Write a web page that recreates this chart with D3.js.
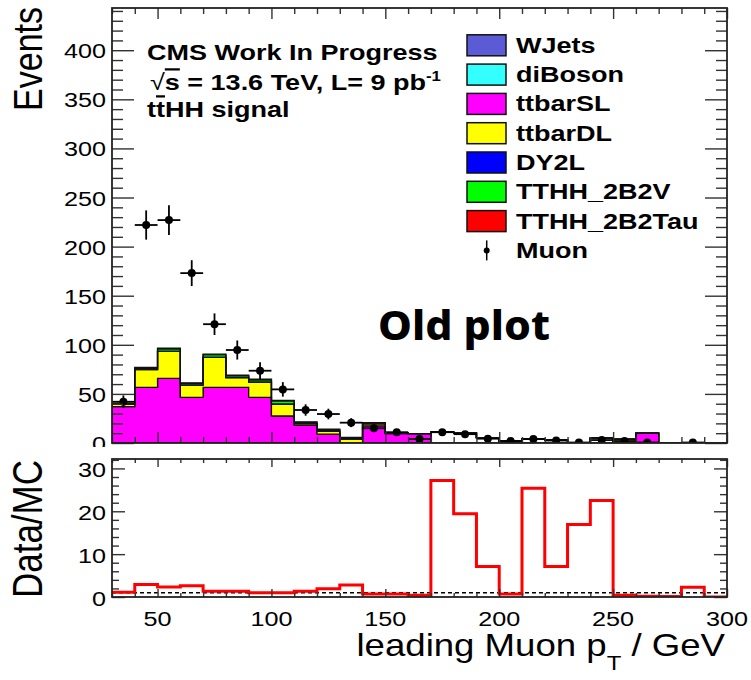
<!DOCTYPE html>
<html>
<head>
<meta charset="utf-8">
<script src="https://cdn.jsdelivr.net/npm/d3@7"></script>
<style>
  body { margin: 0; background: #fff; }
  svg text { font-family: "Liberation Sans", Arial, Helvetica, sans-serif; fill: #000; }
</style>
</head>
<body>
<svg id="chart" width="751" height="680"></svg>
<script>

// lower edge of each 10 GeV bin (leading muon pT)
var binLow = [30,40,50,60,70,80,90,100,110,120,130,140,150,160,170,180,190,200,210,220,230,240,250,260,270,280,290];
var binWidth = 10;

// stacked MC, bottom to top
var wjets      = [0,0,0,0,0,0,0,0,0,0,0,0,0,0,0,0,0,0,0,0,0,0,0,0,0,0,0];
var diboson    = [0,0,0,0,0,0,0,0,0,0,0,0,0,0,0,0,0,0,0,0,0,0,0,0,0,0,0];
var ttbarSL    = [37,56.7,65.8,46.5,56.7,56.7,46.5,27.5,18.3,9,0,17.5,9.5,9.5,0,0,0,0,0,0,0,0,0,10,0,0,0];
var ttbarDL    = [2.5,18,27.5,12.5,30.5,9.8,15.5,12.2,1.5,3,4,2,0.5,0,0,0,0,2,0,0,0,0,4,0,0,0,0];
var dy2l       = [0.2,0.2,0.2,0.2,0.2,0.2,0.2,0.2,0.2,0.2,0.2,0.2,0,0,0,0,0,0,0,0,0,0,0,0,0,0,0];
var tthh2b2v   = [0.5,1.5,2.5,1.5,2.5,2,2.2,3,1,1.5,1,0.5,0.5,0,0,0,0,0,0,0,0,0,0,0,0,0,0];
var tthh2b2tau = [0.5,0.5,0.5,0.5,0.5,0.5,0.5,0.5,0.5,0.5,0.5,0.5,0,0,0,0,0,0,0,0,0,0,0,0,0,0,0];
// outlined bins drawn without fill in the old plot
var unfilledMC = [0,0,0,0,0,0,0,0,0,0,0,0,0,0,11,10,5.4,0,4.4,3,0,5,0,0,0,0,0];

// data (Muon)
var muon = [42,222,227,173,121,94.7,73.6,54.6,33.6,29.5,20.7,15,11,4,11,9,4.4,2,4,2.5,0.5,3,2,0.5,null,0.5,null];

// Data/MC ratio
var ratio = [1.1,2.9,2.35,2.6,1.35,1.35,1.0,1.0,1.35,1.9,2.8,0.7,0.7,0.4,27.2,19.4,7.1,0.7,25.4,7.1,16.9,22.5,0.4,0.15,0.1,2.3,0];

var legendNames  = ["WJets","diBoson","ttbarSL","ttbarDL","DY2L","TTHH_2B2V","TTHH_2B2Tau"];
var legendColors = ["#5b5bd6","#33ffff","#ff00ff","#ffff00","#0000ff","#00ff00","#ff0000"];

var yTickLabels     = [0,50,100,150,200,250,300,350,400];
var ratioTickLabels = [0,10,20,30];
var xTickLabels     = [50,100,150,200,250,300];

// ---------------------------------------------------------------
var SX = 1.2;   // the old png was stretched sideways
var svg = d3.select("#chart");

var left = 112, right = 727;
var x  = d3.scaleLinear().domain([30, 300]).range([left, right]);
var y  = d3.scaleLinear().domain([0, 443]).range([443, 8]);
var yr = d3.scaleLinear().domain([0, 32.2]).range([597, 459]);

svg.append("rect").attr("width", 751).attr("height", 680).attr("fill", "#fff");

function stretchedText(g, px, py, str, size, weight, anchor) {
	return g.append("text")
		.attr("transform", "translate(" + px + "," + py + ") scale(" + SX + ",1)")
		.attr("font-size", size)
		.attr("font-weight", weight || "normal")
		.attr("text-anchor", anchor || "start")
		.text(str);
}

function frameTicks(g, yScale, yTop, yBottom, xMaj, xMin, yMaj, yMin, yMajorVals, yMinorVals) {
	var xMajorVals = xTickLabels;
	var xMinorVals = d3.range(30, 301, 10).filter(function(v) { return v % 50 !== 0; });
	var sets = [
		[d3.axisBottom, x, xMajorVals, xMaj, "translate(0," + yBottom + ")"],
		[d3.axisBottom, x, xMinorVals, xMin, "translate(0," + yBottom + ")"],
		[d3.axisTop, x, xMajorVals, xMaj, "translate(0," + yTop + ")"],
		[d3.axisTop, x, xMinorVals, xMin, "translate(0," + yTop + ")"],
		[d3.axisLeft, yScale, yMajorVals, yMaj, "translate(" + left + ",0)"],
		[d3.axisLeft, yScale, yMinorVals, yMin, "translate(" + left + ",0)"],
		[d3.axisRight, yScale, yMajorVals, yMaj, "translate(" + right + ",0)"],
		[d3.axisRight, yScale, yMinorVals, yMin, "translate(" + right + ",0)"]
	];
	sets.forEach(function(s) {
		g.append("g").attr("transform", s[4])
			.call(s[0](s[1]).tickValues(s[2]).tickSize(-s[3]).tickFormat(""))
			.call(function(a) {
				a.select(".domain").remove();
				a.selectAll("line").attr("stroke", "#333").attr("stroke-width", 1.4);
			});
	});
	g.append("rect")
		.attr("x", left).attr("y", yTop)
		.attr("width", right - left).attr("height", yBottom - yTop)
		.attr("fill", "none").attr("stroke", "#222").attr("stroke-width", 1.8);
}

// ---------------- upper pad ----------------
var upper = svg.append("g");
svg.append("clipPath").attr("id", "clipTop")
	.append("rect").attr("x", left).attr("y", 8).attr("width", right - left).attr("height", 435);

var layerKeys = ["unfilled","WJets","diBoson","ttbarSL","ttbarDL","DY2L","TTHH_2B2V","TTHH_2B2Tau"];
var layerData = {
	unfilled: unfilledMC, WJets: wjets, diBoson: diboson, ttbarSL: ttbarSL,
	ttbarDL: ttbarDL, DY2L: dy2l, TTHH_2B2V: tthh2b2v, TTHH_2B2Tau: tthh2b2tau
};
var layerFill = { unfilled: "#ffffff" };
legendNames.forEach(function(n, i) { layerFill[n] = legendColors[i]; });

var rows = binLow.map(function(b, i) {
	var r = { low: b };
	layerKeys.forEach(function(k) { r[k] = layerData[k][i]; });
	return r;
});
var stacked = d3.stack().keys(layerKeys)(rows);

var stepArea = d3.area().curve(d3.curveStepAfter)
	.x(function(d) { return x(d.low); })
	.y0(function(d) { return y(d.y0); })
	.y1(function(d) { return y(d.y1); });

var stackG = upper.append("g").attr("clip-path", "url(#clipTop)");
stacked.forEach(function(s) {
	var pts = s.map(function(d) { return { low: d.data.low, y0: d[0], y1: d[1] }; });
	var last = pts[pts.length - 1];
	pts.push({ low: last.low + binWidth, y0: last.y0, y1: last.y1 });
	stackG.append("path")
		.attr("d", stepArea(pts))
		.attr("fill", layerFill[s.key])
		.attr("stroke", "#111")
		.attr("stroke-width", 1.3);
});

// data points with poisson errors
var dataG = upper.append("g").attr("clip-path", "url(#clipTop)");
binLow.forEach(function(b, i) {
	var v = muon[i];
	if (v === null) return;
	var cx = x(b + binWidth / 2), cy = y(v), err = Math.sqrt(v);
	dataG.append("line").attr("x1", x(b)).attr("x2", x(b + binWidth)).attr("y1", cy).attr("y2", cy)
		.attr("stroke", "#000").attr("stroke-width", 1.8);
	dataG.append("line").attr("x1", cx).attr("x2", cx).attr("y1", y(v - err)).attr("y2", y(v + err))
		.attr("stroke", "#000").attr("stroke-width", 1.8);
	dataG.append("circle").attr("cx", cx).attr("cy", cy).attr("r", 4).attr("fill", "#000");
});

var yMinorTop = d3.range(0, 441, 10).filter(function(v) { return v % 50 !== 0; });
frameTicks(upper, y, 8, 443, 11, 6, 22, 11, yTickLabels, yMinorTop);

yTickLabels.forEach(function(v) {
	stretchedText(upper, 106, y(v) + 8, v, 21, "normal", "end");
});

stretchedText(upper, 42, 7, "Events", 34, "normal", "end")
	.attr("transform", "translate(42,7) scale(" + SX + ",1) rotate(-90)");

// CMS labels
stretchedText(upper, 147, 60, "CMS Work In Progress", 22.5, "bold");
var l2 = stretchedText(upper, 150, 90, "", 22.5, "bold");
l2.append("tspan").attr("font-weight", "normal").text("\u221A");
l2.append("tspan").style("text-decoration", "overline").text("s");
l2.append("tspan").text(" = 13.6 TeV, L= 9 pb");
l2.append("tspan").attr("dy", -9).attr("font-size", 14).text("-1");
var l3 = stretchedText(upper, 147, 117, "", 22.5, "bold");
l3.append("tspan").text("t");
l3.append("tspan").style("text-decoration", "overline").text("t");
l3.append("tspan").text("HH signal");

// legend
var legG = upper.append("g");
legendNames.forEach(function(n, i) {
	var cy = 45.3 + i * 29.3;
	legG.append("rect").attr("x", 467).attr("y", cy - 10.5).attr("width", 39).attr("height", 21)
		.attr("fill", legendColors[i]).attr("stroke", "#111").attr("stroke-width", 1.5);
	stretchedText(legG, 516, cy + 7.5, n, 22.5, "bold");
});
var muCy = 45.3 + 7 * 29.3;
legG.append("line").attr("x1", 486.7).attr("x2", 486.7).attr("y1", muCy - 10).attr("y2", muCy + 10)
	.attr("stroke", "#000").attr("stroke-width", 1.5);
legG.append("circle").attr("cx", 486.7).attr("cy", muCy).attr("r", 3).attr("fill", "#000");
stretchedText(legG, 516, muCy + 7.5, "Muon", 22.5, "bold");

upper.append("text")
	.attr("x", 378).attr("y", 340)
	.style("font-family", "'Noto Sans', 'Open Sans', sans-serif")
	.attr("font-weight", 800)
	.attr("font-size", 41)
	.attr("textLength", 172)
	.attr("lengthAdjust", "spacingAndGlyphs")
	.text("Old plot");

// ---------------- ratio pad ----------------
svg.append("rect").attr("x", 0).attr("y", 447).attr("width", 751).attr("height", 233).attr("fill", "#fff");
var lower = svg.append("g");
svg.append("clipPath").attr("id", "clipBot")
	.append("rect").attr("x", left).attr("y", 459).attr("width", right - left).attr("height", 138);

lower.append("line")
	.attr("x1", x(30)).attr("x2", x(300)).attr("y1", yr(1)).attr("y2", yr(1))
	.attr("stroke", "#000").attr("stroke-width", 1.4).attr("stroke-dasharray", "4,3");

var ratioPts = binLow.map(function(b, i) { return { low: b, v: ratio[i] }; });
ratioPts.push({ low: 300, v: ratio[ratio.length - 1] });
var stepLine = d3.line().curve(d3.curveStepAfter)
	.x(function(d) { return x(d.low); })
	.y(function(d) { return yr(d.v); });
lower.append("path")
	.attr("clip-path", "url(#clipBot)")
	.attr("d", stepLine(ratioPts))
	.attr("fill", "none").attr("stroke", "#ff0000").attr("stroke-width", 3);

var yMinorBot = d3.range(0, 33, 2).filter(function(v) { return v % 10 !== 0; });
frameTicks(lower, yr, 459, 597, 8, 4, 13, 7, ratioTickLabels, yMinorBot);

ratioTickLabels.forEach(function(v) {
	stretchedText(lower, 106, yr(v) + 8.5, v, 21, "normal", "end");
});
xTickLabels.forEach(function(v) {
	stretchedText(lower, x(v), 626, v, 21, "normal", "middle");
});

stretchedText(lower, 42, 460, "Data/MC", 35, "normal", "end")
	.attr("transform", "translate(42,460) scale(" + SX + ",1) rotate(-90)");

var xt = stretchedText(lower, 725, 656, "", 30.5, "normal", "end");
xt.append("tspan").text("leading Muon p");
xt.append("tspan").attr("dy", 14).attr("font-size", 20).text("T");
xt.append("tspan").attr("dy", -14).text(" / GeV");

</script>
</body>
</html>
